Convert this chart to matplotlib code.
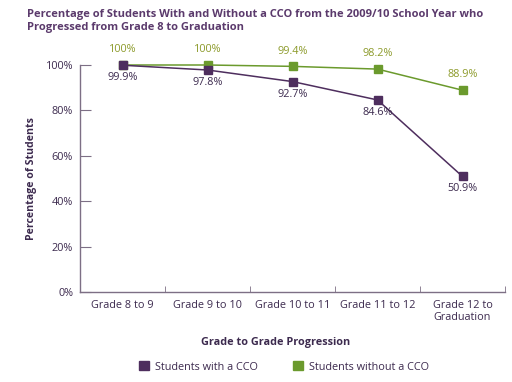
import matplotlib
matplotlib.use("Agg")
import matplotlib.pyplot as plt
from matplotlib.patches import Patch

categories = ["Grade 8 to 9", "Grade 9 to 10", "Grade 10 to 11", "Grade 11 to 12", "Grade 12 to\nGraduation"]
with_cco = [99.9, 97.8, 92.7, 84.6, 50.9]
without_cco = [100, 100, 99.4, 98.2, 88.9]
with_labels = ["99.9%", "97.8%", "92.7%", "84.6%", "50.9%"]
without_labels = ["100%", "100%", "99.4%", "98.2%", "88.9%"]
yticks = [0, 20, 40, 60, 80, 100]
ytick_labels = ["0%", "20%", "40%", "60%", "80%", "100%"]

purple = "#4e2e5e"
green = "#6b9a2d"
green_txt = "#8c9a2a"
purple_txt = "#3c2a4e"
axis_col = "#7d6f85"

plt.rcParams['font.family'] = ['Open Sans', 'DejaVu Sans']

fig = plt.figure(figsize=(5.12, 3.82), dpi=100)
ax = fig.add_axes([80/512, 1-292/382, 425/512, 227/382])

x = list(range(len(categories)))
ax.plot(x, with_cco, color=purple, lw=1.1, marker="s", ms=6, clip_on=False, zorder=3)
ax.plot(x, without_cco, color=green, lw=1.1, marker="s", ms=6, clip_on=False, zorder=2)

for i in x:
    ax.annotate(without_labels[i], (i, without_cco[i]), xytext=(0, 7), textcoords="offset points",
                ha="center", va="bottom", fontsize=7.8, color=green_txt)
    ax.annotate(with_labels[i], (i, with_cco[i]), xytext=(0, -5), textcoords="offset points",
                ha="center", va="top", fontsize=7.8, color=purple_txt)

ax.set_xlim(-0.5, len(categories) - 0.5)
ax.set_ylim(0, 100)
ax.set_yticks(yticks)
ax.set_yticklabels(ytick_labels, fontsize=7.8, color=purple_txt)
ax.set_xticks(x)
ax.set_xticklabels(categories, fontsize=7.8, color=purple_txt, linespacing=1.05)
ax.tick_params(axis="x", length=0, pad=6)
ax.set_xticks([i + 0.5 for i in x], minor=True)
ax.tick_params(axis="x", which="minor", direction="in", length=4, color=axis_col)
ax.tick_params(axis="y", direction="in", length=8, color=axis_col, pad=5)

for s in ["top", "right"]:
    ax.spines[s].set_visible(False)
for s in ["left", "bottom"]:
    ax.spines[s].set_color(axis_col)
    ax.spines[s].set_linewidth(1.0)

ax.set_ylabel("Percentage of Students", fontsize=7.6, fontweight="bold", color=purple_txt, labelpad=6)
ax.set_xlabel("Grade to Grade Progression", fontsize=7.8, fontweight="bold", color=purple_txt, labelpad=8)
ax.xaxis.set_label_coords((276 - 80) / 425, -0.2)

fig.text(27/512, 1-9/382, "Percentage of Students With and Without a CCO from the 2009/10 School Year who\nProgressed from Grade 8 to Graduation",
         fontsize=8, fontweight="bold", color="#5b3a6c", ha="left", va="top", linespacing=1.2)

handles = [Patch(color=purple, label="Students with a CCO"), Patch(color=green, label="Students without a CCO")]
fig.legend(handles=handles, loc="center", bbox_to_anchor=(284/512, 1-367/382), ncol=2, frameon=False,
           fontsize=7.8, handlelength=0.9, handleheight=0.9, columnspacing=3.2, handletextpad=0.6,
           labelcolor=purple_txt)

fig.savefig("out.png", dpi=100)
